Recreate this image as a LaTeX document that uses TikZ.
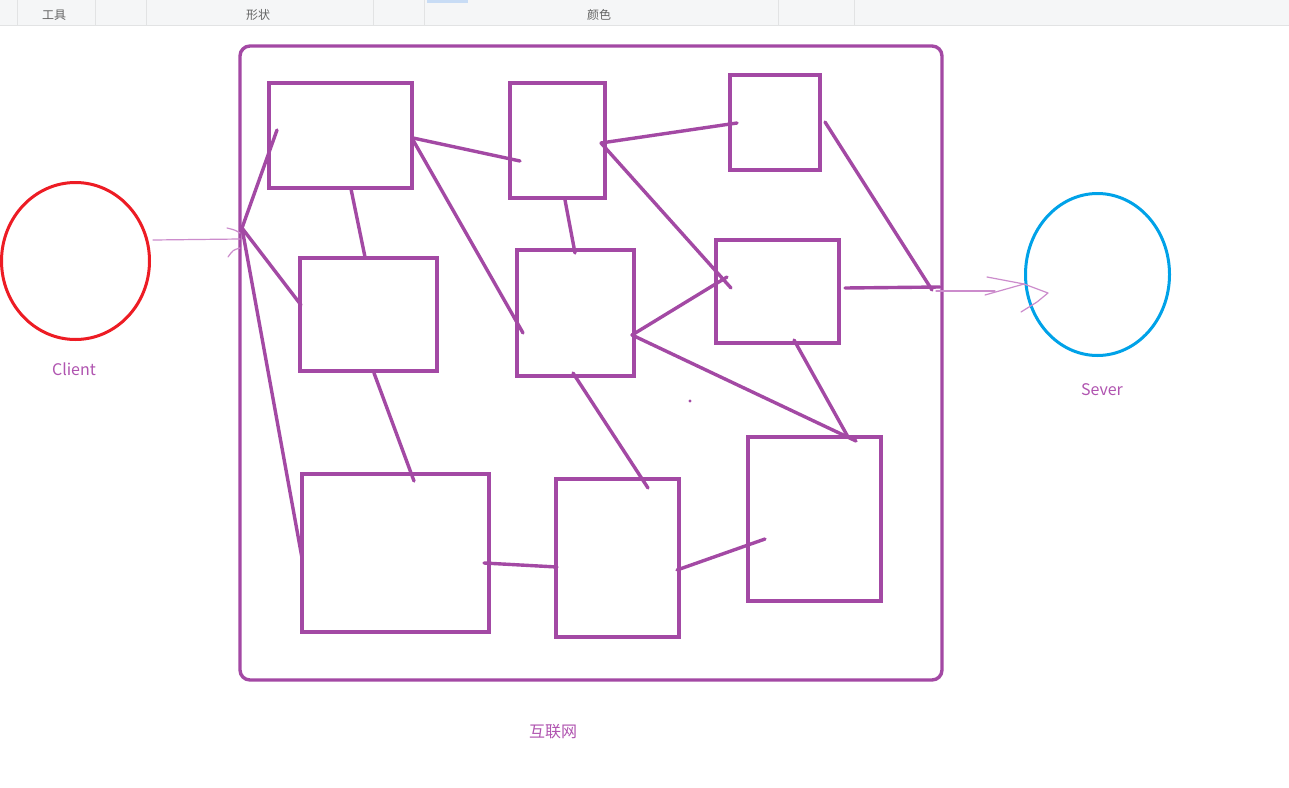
\documentclass[tikz,border=0pt]{standalone}
\usepackage{fontspec}
\newfontfamily\cjk{Noto Sans CJK SC}
\usetikzlibrary{shapes.geometric}
\definecolor{ppl}{RGB}{163,73,164}
\definecolor{ppltxt}{RGB}{176,84,176}
\definecolor{pplthin}{RGB}{204,140,204}
\definecolor{cred}{RGB}{237,28,36}
\definecolor{cblue}{RGB}{0,162,232}
\definecolor{barbg}{RGB}{245,246,247}
\definecolor{barline}{RGB}{226,227,228}
\definecolor{bartxt}{RGB}{100,100,100}
\definecolor{tabblue}{RGB}{200,220,245}
\tikzset{
  box/.style={draw=ppl, line width=3.4pt, rectangle, outer sep=0pt, inner sep=0pt},
  frame/.style={draw=ppl, line width=3.4pt, rectangle, rounded corners=10pt, outer sep=0pt, inner sep=0pt},
  link/.style={draw=ppl, line width=3.4pt, line cap=round},
  pen/.style={draw=pplthin, line width=1.2pt, line cap=round, line join=round},
  host/.style={ellipse, line width=3pt, outer sep=0pt, inner sep=0pt},
  lbl/.style={font=\cjk\fontsize{16}{18}\selectfont, text=ppltxt, inner sep=0pt},
  barlbl/.style={font=\cjk\fontsize{12}{14}\selectfont, text=bartxt, inner sep=0pt},
  sep/.style={draw=barline, line width=0.8pt}
}
\begin{document}
\begin{tikzpicture}[x=1pt,y=-1pt]
\useasboundingbox (0,0) rectangle (1289,787);
\fill[white] (0,0) rectangle (1289,787);
% toolbar
\fill[barbg] (0,0) rectangle (1289,25);
\draw[sep] (0,25.5) -- (1289,25.5);
\foreach \sx in {17,95,146,373,424,778,854}{\draw[sep] (\sx,0) -- (\sx,25);}
\fill[tabblue] (427,0) rectangle (468,2.5);
\node[barlbl] (t1) at (54,15) {工具};
\node[barlbl] (t2) at (258,15) {形状};
\node[barlbl] (t3) at (599,15) {颜色};
% hosts
\node[host, draw=cred, minimum width=148, minimum height=157] (client) at (75.5,261) {};
\node[host, draw=cblue, minimum width=144, minimum height=162] (server) at (1097.5,274.5) {};
\node[lbl] (clientlbl) at (74,369) {Client};
\node[lbl] (serverlbl) at (1102,390) {Sever};
% internet frame
\node[frame, minimum width=702, minimum height=634] (net) at (591,363) {};
\node[lbl] (netlbl) at (553,732) {互联网};
% routers
\node[box, minimum width=143, minimum height=105] (b1) at (340.5,135.5) {};
\node[box, minimum width=95, minimum height=115] (b2) at (557.5,140.5) {};
\node[box, minimum width=90, minimum height=95] (b3) at (775,122.5) {};
\node[box, minimum width=137, minimum height=113] (b4) at (368.5,314.5) {};
\node[box, minimum width=117, minimum height=126] (b5) at (575.5,313) {};
\node[box, minimum width=123, minimum height=103] (b6) at (777.5,291.5) {};
\node[box, minimum width=187, minimum height=158] (b7) at (395.5,553) {};
\node[box, minimum width=123, minimum height=158] (b8) at (617.5,558) {};
\node[box, minimum width=133, minimum height=164] (b9) at (814.5,519) {};
% connector end points
\coordinate (jl) at (242,228);
\coordinate (e1a) at (277,130);
\coordinate (e4a) at (301,305);
\coordinate (e7a) at (302,558);
\coordinate (e1b) at (413,138);
\coordinate (e2a) at (520,161);
\coordinate (e1c) at (413,140);
\coordinate (e5a) at (523,333);
\coordinate (e1d) at (351,189);
\coordinate (e4b) at (365,257);
\coordinate (e2b) at (565,200);
\coordinate (e5b) at (575,253);
\coordinate (e3a) at (737,123);
\coordinate (e2c) at (601,143);
\coordinate (e6a) at (731,288);
\coordinate (e5c) at (632,335);
\coordinate (e6b) at (727,277);
\coordinate (e9a) at (856,441);
\coordinate (e6c) at (794,340);
\coordinate (e9b) at (848,437);
\coordinate (e4c) at (374,373);
\coordinate (e7b) at (414,481);
\coordinate (e5d) at (573,373);
\coordinate (e8a) at (648,488);
\coordinate (e7c) at (484,563);
\coordinate (e8b) at (557,567);
\coordinate (e8c) at (677,570);
\coordinate (e9c) at (765,539);
\coordinate (e6d) at (845,288);
\coordinate (jr) at (940,287);
\coordinate (e3b) at (825,122);
\coordinate (jr2) at (932,290);
% connectors
\draw[link] (jl) -- (e1a);
\draw[link] (jl) -- (e4a);
\draw[link] (jl) -- (e7a);
\draw[link] (e1b) -- (e2a);
\draw[link] (e1c) -- (e5a);
\draw[link] (e1d) -- (e4b);
\draw[link] (e2b) -- (e5b);
\draw[link] (e3a) -- (e2c);
\draw[link] (e2c) -- (e6a);
\draw[link] (e5c) -- (e6b);
\draw[link] (e5c) -- (e9a);
\draw[link] (e6c) -- (e9b);
\draw[link] (e4c) -- (e7b);
\draw[link] (e5d) -- (e8a);
\draw[link] (e7c) -- (e8b);
\draw[link] (e8c) -- (e9c);
\draw[link] (e6d) -- (jr);
\draw[link] (e3b) -- (jr2);
\fill[ppl] (690,401) circle (1.7);
% hand-drawn arrows
\coordinate (ca0) at (153,240);
\coordinate (ca1) at (240,239);
\draw[pen] (ca0) -- (ca1);
\draw[pen] (227,228) .. controls (235,230) .. (240,233);
\draw[pen] (228,257) .. controls (233,250) .. (240,248);
\coordinate (sa0) at (936,291);
\coordinate (sa1) at (995,291);
\draw[pen] (sa0) -- (sa1);
\draw[pen] (985,295) -- (1024,284);
\draw[pen] (987,277) -- (1024,284) -- (1048,293) -- (1037,302) -- (1021,312);
\end{tikzpicture}
\end{document}
